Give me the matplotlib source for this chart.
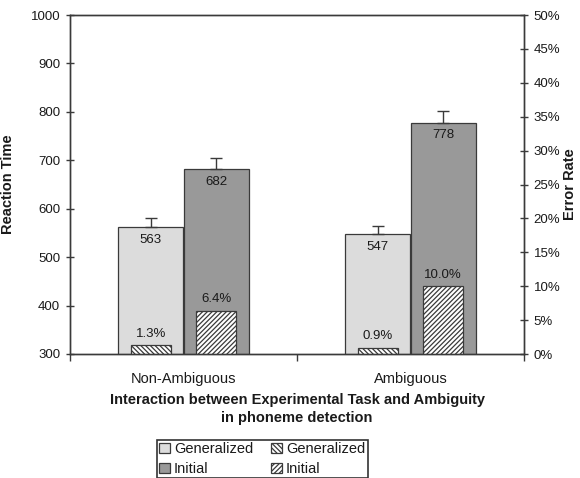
import matplotlib
matplotlib.use("Agg")
import matplotlib.pyplot as plt
from matplotlib.patches import Patch
from matplotlib.ticker import FuncFormatter, FixedLocator

plt.rcParams['font.family'] = ['Liberation Sans', 'DejaVu Sans']
plt.rcParams['hatch.linewidth'] = 0.9

categories = ["Non-Ambiguous", "Ambiguous"]
rt_generalized = [563, 547]
rt_initial = [682, 778]
rt_gen_err = [17, 17]
rt_init_err = [23, 23]
err_generalized = [1.3, 0.9]
err_initial = [6.4, 10.0]
series_names = ["Generalized", "Initial"]

light = "#dcdcdc"
dark = "#999999"
edge = "#3a3a3a"
txt = "#1a1a1a"
hatch_g = '\\' * 7
hatch_i = '/' * 7

fig = plt.figure(figsize=(5.8, 4.78), dpi=100)
ax = fig.add_axes([70/580, 1-354/478, 454/580, 339/478])

x = list(range(len(categories)))
w = 0.287
hw = 0.176
off = 0.1445

xg = [i - off for i in x]
xi = [i + off for i in x]

ax.bar(xg, rt_generalized, width=w, color=light, edgecolor=edge, linewidth=0.9, zorder=2)
ax.bar(xi, rt_initial, width=w, color=dark, edgecolor=edge, linewidth=0.9, zorder=2)
ax.errorbar(xg, rt_generalized, yerr=[[0]*len(x), rt_gen_err], fmt='none', ecolor=edge,
            elinewidth=1.0, capsize=4, capthick=1.0, zorder=3)
ax.errorbar(xi, rt_initial, yerr=[[0]*len(x), rt_init_err], fmt='none', ecolor=edge,
            elinewidth=1.0, capsize=4, capthick=1.0, zorder=3)
for xv, v in zip(xg, rt_generalized):
    ax.annotate(f"{v}", (xv, v), xytext=(0, -5), textcoords='offset points',
                ha='center', va='top', fontsize=9.5, color=txt, zorder=4)
for xv, v in zip(xi, rt_initial):
    ax.annotate(f"{v}", (xv, v), xytext=(0, -5), textcoords='offset points',
                ha='center', va='top', fontsize=9.5, color=txt, zorder=4)

ax.set_xlim(-0.5, 1.5)
ax.set_ylim(300, 1000)
ax.set_yticks(range(300, 1001, 100))
ax.set_xticks(x)
ax.set_xticklabels(categories, fontsize=10.5, color=txt)
ax.xaxis.set_minor_locator(FixedLocator([-0.5, 0.5, 1.5]))
ax.tick_params(axis='x', which='major', length=0, pad=13)
ax.tick_params(axis='x', which='minor', length=5, width=1.0, color=edge, direction='out')
ax.tick_params(axis='y', direction='inout', length=6, width=1.0, color=edge, labelsize=9.5,
               labelcolor=txt, pad=4)
for s in ax.spines.values():
    s.set_color(edge)
    s.set_linewidth(1.0)

ax.set_ylabel("Reaction Time", fontsize=10.5, fontweight='bold', color=txt)
ax.yaxis.set_label_coords(-0.121, 0.5)
ax.set_xlabel("Interaction between Experimental Task and Ambiguity\nin phoneme detection",
              fontsize=10.5, fontweight='bold', color=txt, linespacing=1.3)
ax.xaxis.set_label_coords(0.5, -0.116)
ax.xaxis.label.set_va('top')

ax2 = ax.twinx()
ax2.set_ylim(0, 50)
ax2.bar(xg, err_generalized, width=hw, color='white', edgecolor=edge, hatch=hatch_g,
        linewidth=0.9, zorder=2)
ax2.bar(xi, err_initial, width=hw, color='white', edgecolor=edge, hatch=hatch_i,
        linewidth=0.9, zorder=2)
for xv, v in zip(xg, err_generalized):
    ax2.annotate(f"{v:.1f}%", (xv, v), xytext=(0, 4), textcoords='offset points',
                 ha='center', va='bottom', fontsize=9.5, color=txt)
for xv, v in zip(xi, err_initial):
    ax2.annotate(f"{v:.1f}%", (xv, v), xytext=(0, 4), textcoords='offset points',
                 ha='center', va='bottom', fontsize=9.5, color=txt)
ax2.set_yticks(range(0, 51, 5))
ax2.yaxis.set_major_formatter(FuncFormatter(lambda v, p: f"{int(v)}%"))
ax2.tick_params(axis='y', direction='inout', length=6, width=1.0, color=edge, labelsize=9.5,
                labelcolor=txt, pad=4)
for s in ax2.spines.values():
    s.set_color(edge)
    s.set_linewidth(1.0)
ax2.set_ylabel("Error Rate", fontsize=10.5, fontweight='bold', color=txt, rotation=90)
ax2.yaxis.set_label_coords(1.086, 0.5)

handles = [
    Patch(facecolor=light, edgecolor=edge, linewidth=0.9, label=series_names[0]),
    Patch(facecolor=dark, edgecolor=edge, linewidth=0.9, label=series_names[1]),
    Patch(facecolor='white', edgecolor=edge, hatch=hatch_g, linewidth=0.9, label=series_names[0]),
    Patch(facecolor='white', edgecolor=edge, hatch=hatch_i, linewidth=0.9, label=series_names[1]),
]
leg = fig.legend(handles=handles, ncol=2, loc='upper center', bbox_to_anchor=(262/580, 1-440/478),
                 fontsize=10.5, frameon=True, fancybox=False, edgecolor='black',
                 handlelength=0.75, handleheight=0.75, handletextpad=0.3,
                 columnspacing=1.2, labelspacing=0.4, borderpad=0.15, borderaxespad=0)
leg.get_frame().set_linewidth(1.2)
for t in leg.get_texts():
    t.set_color(txt)

fig.savefig("out.png", dpi=100)
